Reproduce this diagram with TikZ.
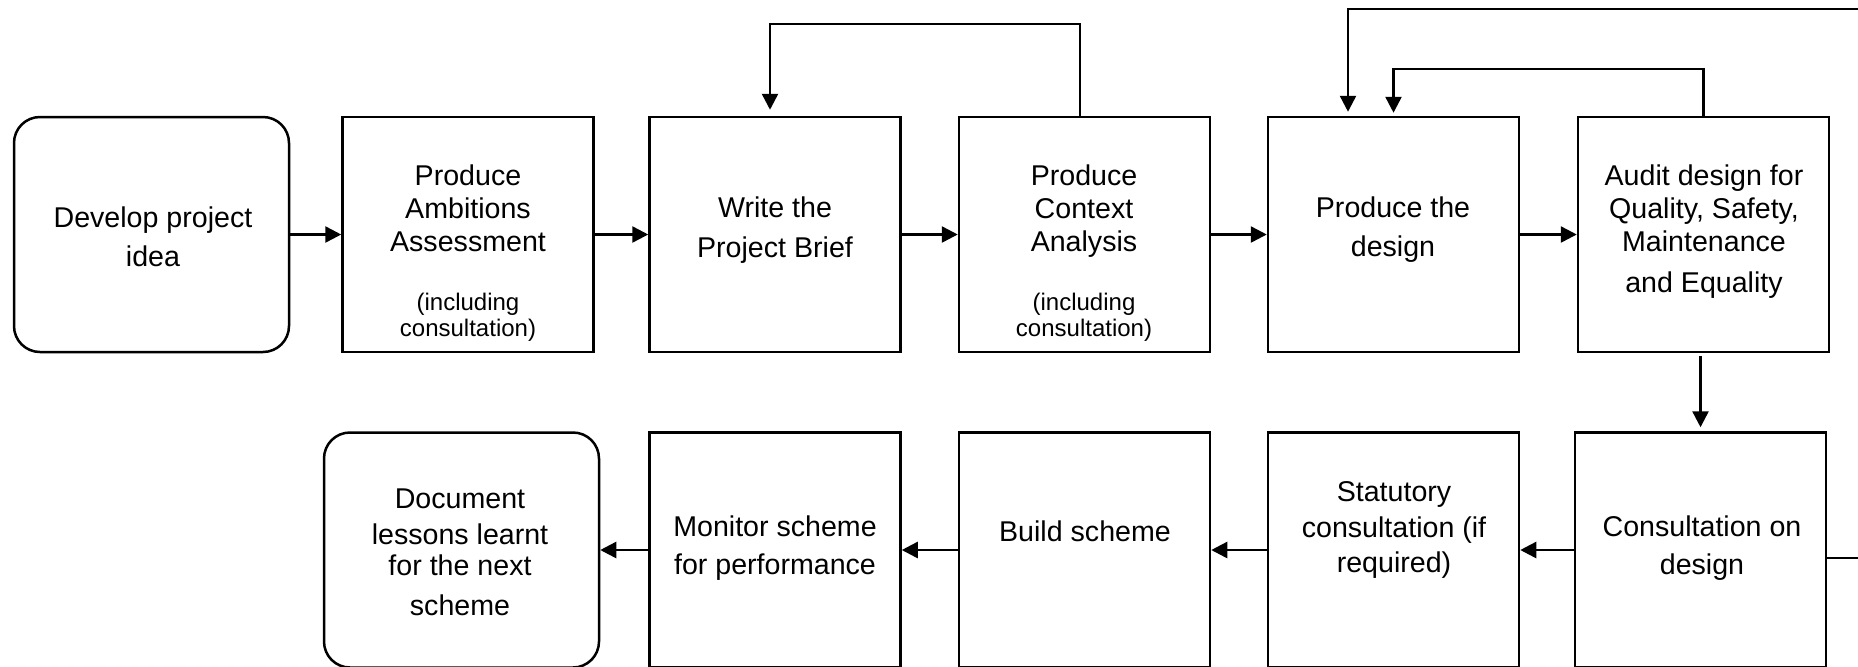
\documentclass[tikz,border=0pt]{standalone}
\usepackage{fontspec}
\setmainfont{Liberation Sans}
\usetikzlibrary{arrows.meta}
\begin{document}
\begin{tikzpicture}[x=0.5pt,y=-0.5pt,
  box/.style={draw,line width=1.25pt,minimum width=125.5pt,minimum height=117.5pt,inner sep=0pt},
  wide/.style={box,minimum width=137.5pt,rounded corners=13pt},
  txt/.style={align=center,inner sep=0pt,font=\fontsize{14.3pt}{#1}\selectfont},
  txt/.default=17pt,
  small/.style={align=center,inner sep=0pt,font=\fontsize{12pt}{13pt}\selectfont},
  arr/.style={line width=1.25pt,-{Triangle[length=8pt,width=8pt]}}]
\useasboundingbox (0,0) rectangle (1858,666);
% top row
\node[wide] (dev) at (151.5,234.5) {};
\node[box] (amb) at (468,234.5) {};
\node[box] (brief) at (775,234.5) {};
\node[box] (ctx) at (1084.5,234.5) {};
\node[box] (des) at (1393.5,234.5) {};
\node[box] (aud) at (1703.5,234.5) {};
% bottom row
\node[wide] (doc) at (461.5,550) {};
\node[box] (mon) at (775,550) {};
\node[box] (bld) at (1084.5,550) {};
\node[box] (stat) at (1393.5,550) {};
\node[box] (cons) at (1700.5,550) {};
% texts
\node[txt=19.5pt] (tdev) at (153,237) {Develop project\\idea};
\node[txt=16.5pt] (tamb) at (468,208.5) {Produce\\Ambitions\\Assessment};
\node[small] (samb) at (468,317) {(including\\consultation)};
\node[txt=20pt] (tbrief) at (775,230.5) {Write the\\Project Brief};
\node[txt=16.5pt] (tctx) at (1084,211.5) {Produce\\Context\\Analysis};
\node[small] (sctx) at (1084,317) {(including\\consultation)};
\node[txt=19.5pt] (tdes) at (1393,230) {Produce the\\design};
\node[txt=16.5pt] (taud) at (1704,232) {Audit design for\\Quality, Safety,\\Maintenance\\[4pt]and Equality};
\node[txt=19pt] (tcons) at (1702,548.5) {Consultation on\\design};
\node[txt=17.75pt] (tstat) at (1394,530) {Statutory\\consultation (if\\required)};
\node[txt] (tbld) at (1085,531) {Build scheme};
\node[txt=19pt] (tmon) at (775,548.5) {Monitor scheme\\for performance};
\node[txt=16.5pt] (tdoc) at (460,552) {Document\\[1.5pt]lessons learnt\\[-1pt]for the next\\[3.5pt]scheme};
% main flow
\draw[arr] (dev) -- (amb);
\draw[arr] (amb) -- (brief);
\draw[arr] (brief) -- (ctx);
\draw[arr] (ctx) -- (des);
\draw[arr] (des) -- (aud);
\draw[arr,shorten <=1.5pt,shorten >=2pt] (aud.south -| cons.north) -- (cons.north);
\draw[arr] (cons) -- (stat);
\draw[arr] (stat) -- (bld);
\draw[arr] (bld) -- (mon);
\draw[arr] (mon) -- (doc);
% feedback loops
\draw[arr,shorten >=3pt] ([xshift=-2.25pt]ctx.north) -- ++(0,-92) -| ([xshift=-2.5pt]brief.north);
\draw[arr,shorten >=1.5pt] (aud.north) -- ++(0,-47) -| (des.north);
\coordinate (loopR) at (1885,9);
\draw[arr,shorten >=2pt] ([yshift=-4pt]cons.east) -| (loopR) -| ([xshift=-22.75pt]des.north);
\end{tikzpicture}
\end{document}
